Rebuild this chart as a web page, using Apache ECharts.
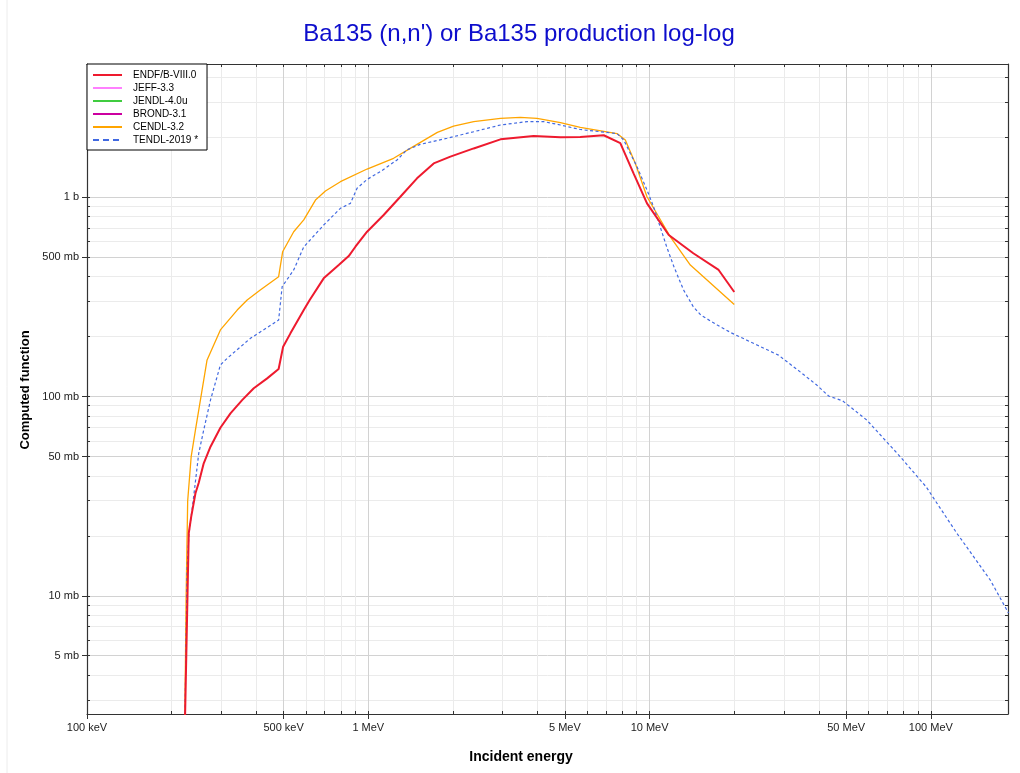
<!DOCTYPE html>
<html>
<head>
<meta charset="utf-8">
<script src="https://cdn.jsdelivr.net/npm/echarts@6/dist/echarts.min.js"></script>
<style>
  html, body { margin: 0; background: #fff; }
  #chart { width: 1020px; height: 773px; }
</style>
</head>
<body>
<div id="chart"></div>
<script>
// energies in MeV, cross sections in barns
const endfE = [0.2225, 0.230, 0.2346, 0.243, 0.2496, 0.260, 0.2748, 0.298, 0.3236, 0.356, 0.3916, 0.437, 0.480, 0.498,
  0.5287, 0.5896, 0.619, 0.694, 0.785, 0.852, 0.900, 0.990, 1.134, 1.30, 1.49, 1.708, 1.958, 2.37, 2.95, 3.87, 4.82,
  5.67, 6.87, 7.87, 8.77, 9.79, 11.7, 14.3, 17.6, 20];
const endfXs = [0.002, 0.0206, 0.0249, 0.0327, 0.0369, 0.0462, 0.056, 0.0697, 0.0823, 0.096, 0.110, 0.1234, 0.1374, 0.178,
  0.2076, 0.2718, 0.305, 0.392, 0.457, 0.507, 0.565, 0.672, 0.815, 1.007, 1.246, 1.48, 1.60, 1.76, 1.955, 2.03, 2.0,
  2.01, 2.05, 1.87, 1.32, 0.933, 0.647, 0.524, 0.432, 0.335];

const cendlE = [0.2225, 0.225, 0.228, 0.2346, 0.243, 0.253, 0.267, 0.298, 0.342, 0.371, 0.413, 0.480, 0.496, 0.543,
  0.5896, 0.649, 0.704, 0.796, 0.990, 1.23, 1.41, 1.76, 2.01, 2.37, 2.95, 3.47, 3.98, 4.82, 5.67, 7.66, 8.2, 8.9,
  9.79, 10.77, 11.85, 13.96, 20];
const cendlXs = [0.002, 0.0095, 0.030, 0.0499, 0.068, 0.096, 0.152, 0.216, 0.2718, 0.305, 0.3425, 0.3995, 0.533, 0.672,
  0.77, 0.969, 1.076, 1.198, 1.387, 1.57, 1.76, 2.12, 2.28, 2.40, 2.49, 2.52, 2.49, 2.37, 2.245, 2.09, 1.94, 1.48,
  1.007, 0.799, 0.634, 0.457, 0.29];

const tendlE = [0.2225, 0.227, 0.2305, 0.2385, 0.2496, 0.260, 0.2748, 0.298, 0.315, 0.381, 0.480, 0.494, 0.543, 0.590,
  0.606, 0.694, 0.796, 0.864, 0.912, 0.990, 1.103, 1.265, 1.37, 1.53, 1.905, 2.37, 2.95, 3.67, 4.2, 4.82, 5.67, 7.66,
  8.09, 9.02, 9.79, 10.33, 10.9, 11.5, 12.2, 13.2, 14.3, 15.2, 17.4, 19.5, 24.1, 28.7, 34.3, 39.3, 43.3, 48.5, 59.2,
  77.8, 96.2, 123.7, 162.6, 188.7];
const tendlXs = [0.002, 0.014, 0.0206, 0.030, 0.0519, 0.068, 0.096, 0.144, 0.1556, 0.196, 0.242, 0.356, 0.432, 0.565,
  0.588, 0.726, 0.881, 0.933, 1.11, 1.23, 1.345, 1.54, 1.73, 1.845, 1.98, 2.135, 2.307, 2.40, 2.40, 2.307, 2.19, 2.09,
  1.94, 1.424, 1.088, 0.897, 0.712, 0.565, 0.449, 0.343, 0.2825, 0.2565, 0.2285, 0.209, 0.1814, 0.1615, 0.133, 0.1142,
  0.1006, 0.0953, 0.0762, 0.0499, 0.0352, 0.0206, 0.012, 0.0082];

const libNames = ['ENDF/B-VIII.0', 'JEFF-3.3', 'JENDL-4.0u', 'BROND-3.1', 'CENDL-3.2', 'TENDL-2019 *'];
const libColors = ['#ee1a2e', '#ff80ff', '#40cc40', '#cc00a0', '#ffa500', '#4169e1'];

// tick positions (MeV / b)
const eMajor = [0.1, 0.5, 1, 5, 10, 50, 100];
const eMinor = [0.2, 0.3, 0.4, 0.6, 0.7, 0.8, 0.9, 2, 3, 4, 6, 7, 8, 9, 20, 30, 40, 60, 70, 80, 90];
const xsMajor = [0.005, 0.01, 0.05, 0.1, 0.5, 1];
const xsMinor = [0.003, 0.004, 0.006, 0.007, 0.008, 0.009, 0.02, 0.03, 0.04, 0.06, 0.07, 0.08, 0.09,
  0.2, 0.3, 0.4, 0.6, 0.7, 0.8, 0.9, 2, 3, 4];

const eRange = [0.1, 188];
const xsRange = [0.00255, 4.67];

const FONT = '"Liberation Sans", Arial, Helvetica, sans-serif';
const lg = Math.log10;

const pairs = (xs, ys) => xs.map((x, i) => [lg(x), lg(ys[i])]);

function fmtE(v) {
  const e = Math.pow(10, v);
  return e < 1 ? Math.round(e * 1000) + ' keV' : Math.round(e) + ' MeV';
}
function fmtXs(v) {
  const s = Math.pow(10, v);
  return s >= 1 ? Math.round(s) + ' b' : Math.round(s * 1000) + ' mb';
}

// four stacked axes per dimension: labelled majors, light minor grid, inner ticks, mirrored frame side
function axesFor(side, other, range, major, minor, fmt) {
  const all = major.concat(minor).map(lg);
  const base = {
    type: 'value', min: lg(range[0]), max: lg(range[1]),
    axisLine: { show: false, onZero: false }, axisTick: { show: false },
    axisLabel: { show: false }, splitLine: { show: false }
  };
  return [
    Object.assign({}, base, {
      position: side,
      axisLine: { show: true, onZero: false, lineStyle: { color: '#333', width: 1.2 } },
      axisTick: { show: true, length: 5, customValues: major.map(lg), lineStyle: { color: '#333' } },
      axisLabel: { show: true, customValues: major.map(lg), formatter: fmt, fontSize: 11, color: '#222',
        fontFamily: FONT, margin: 8 },
      splitLine: { show: true, lineStyle: { color: '#d2d2d2', width: 1 } }
    }),
    Object.assign({}, base, {
      position: side,
      axisTick: { show: false, customValues: minor.map(lg) },
      splitLine: { show: true, lineStyle: { color: '#ebebeb', width: 1 } }
    }),
    Object.assign({}, base, {
      position: side,
      axisTick: { show: true, inside: true, length: 3, customValues: all, lineStyle: { color: '#333' } }
    }),
    Object.assign({}, base, {
      position: other,
      axisLine: { show: true, onZero: false, lineStyle: { color: '#333', width: 1.2 } },
      axisTick: { show: true, inside: true, length: 3, customValues: all, lineStyle: { color: '#333' } }
    })
  ];
}

const chart = echarts.init(document.getElementById('chart'));

const seriesData = [pairs(endfE, endfXs), [], [], [], pairs(cendlE, cendlXs), pairs(tendlE, tendlXs)];
const widths = [2, 1.5, 1.5, 1.5, 1.3, 1.2];

chart.setOption({
  animation: false,
  backgroundColor: '#fff',
  grid: { left: 87, right: 12, top: 64, bottom: 59 },
  xAxis: axesFor('bottom', 'top', eRange, eMajor, eMinor, fmtE),
  yAxis: axesFor('left', 'right', xsRange, xsMajor, xsMinor, fmtXs),
  legend: {
    orient: 'vertical', left: 87, top: 64,
    padding: [6, 9, 5, 5],
    itemWidth: 29, itemHeight: 10, itemGap: 3,
    backgroundColor: '#fff', borderColor: '#000', borderWidth: 1,
    itemStyle: { opacity: 0 },
    lineStyle: { width: 2 },
    textStyle: { fontSize: 10, color: '#000', fontFamily: FONT, lineHeight: 10, padding: [0, 0, 0, 6] },
    data: libNames.map((name, i) => i === 5 ? { name: name, lineStyle: { width: 2, type: [6, 4] } } : name)
  },
  graphic: [
    { type: 'line', shape: { x1: 7, y1: 0, x2: 7, y2: 773 }, style: { stroke: '#ececec', lineWidth: 1 }, silent: true },
    { type: 'text', x: 519, y: 34,
      style: { text: "Ba135 (n,n') or Ba135 production log-log", fill: '#0d0dcc', font: '24px ' + FONT,
        align: 'center', verticalAlign: 'middle', textAlign: 'center', textVerticalAlign: 'middle' } },
    { type: 'text', x: 521, y: 757,
      style: { text: 'Incident energy', fill: '#000', font: 'bold 14px ' + FONT,
        align: 'center', verticalAlign: 'middle', textAlign: 'center', textVerticalAlign: 'middle' } },
    { type: 'text', x: 25, y: 390, rotation: Math.PI / 2,
      style: { text: 'Computed function', fill: '#000', font: 'bold 13px ' + FONT,
        align: 'center', verticalAlign: 'middle', textAlign: 'center', textVerticalAlign: 'middle' } }
  ],
  series: libNames.map((name, i) => ({
    name: name,
    type: 'line',
    data: seriesData[i],
    showSymbol: false,
    symbol: 'none',
    color: libColors[i],
    itemStyle: { opacity: 0 },
    lineStyle: { width: widths[i], type: i === 5 ? [3, 2.5] : 'solid' },
    z: i === 0 ? 4 : 3
  }))
});
</script>
</body>
</html>
